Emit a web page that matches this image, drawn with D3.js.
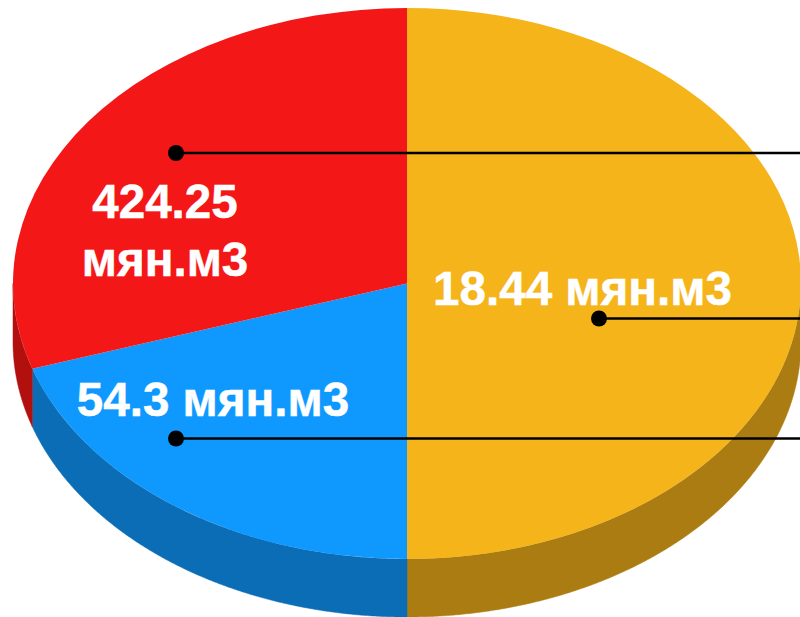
<!DOCTYPE html>
<html>
<head>
<meta charset="utf-8">
<script src="https://cdnjs.cloudflare.com/ajax/libs/d3/7.8.5/d3.min.js"></script>
<style>
  html, body { margin: 0; padding: 0; background: #fff; }
  svg { display: block; }
  text { font-family: "Liberation Sans", Arial, sans-serif; font-weight: bold; fill: #fff; stroke: #fff; stroke-width: 0.5px; }
</style>
</head>
<body>
<svg id="chart" width="800" height="617"></svg>
<script>
// slice shares as drawn (the picture does not follow the label values)
const categories = ["18.44 мян.м3", "54.3 мян.м3", "424.25 мян.м3"];
const shares = [50, 20, 30];
const topColors = ["#f4b41a", "#0f99ff", "#f41717"];
const sideColors = ["#ab7c11", "#0a6db6", "#b20f0f"];

const width = 800, height = 617;
const cx = 407, cy = 283.5, rx = 394, ry = 275.5, depth = 58;

const svg = d3.select("#chart");

const pie = d3.pie().sort(null).value(d => d)(shares);
const slices = pie.map((d, i) => ({ start: d.startAngle, end: d.endAngle, top: topColors[i], side: sideColors[i] }));

// the angle runs clockwise from the top of the pie
const px = a => cx + rx * Math.sin(a);
const py = a => cy - ry * Math.cos(a);

const wall = d3.area()
  .x(a => px(a))
  .y0(a => py(a))
  .y1(a => py(a) + depth);

// side wall, only the front half of the ellipse can be seen
slices.forEach(s => {
  const from = Math.max(s.start, Math.PI / 2);
  const to = Math.min(s.end, Math.PI * 1.5);
  if (to <= from) return;
  const angles = d3.range(from, to, 0.005).concat([to]);
  svg.append("path")
    .attr("d", wall(angles))
    .attr("fill", s.side)
    .attr("stroke", s.side)
    .attr("stroke-width", 0.5);
});

// top face
const arc = d3.arc().innerRadius(0).outerRadius(ry);
svg.append("g")
  .attr("transform", `translate(${cx},${cy}) scale(${rx / ry},1)`)
  .selectAll("path")
  .data(pie)
  .join("path")
  .attr("d", arc)
  .attr("fill", (d, i) => topColors[i]);

// leader lines run off the right edge
const leaders = [
  [176, 153],
  [599, 318.5],
  [176, 438.5]
];
leaders.forEach(([x, y]) => {
  svg.append("line")
    .attr("x1", x).attr("y1", y)
    .attr("x2", width).attr("y2", y)
    .attr("stroke", "#000")
    .attr("stroke-width", 2.5);
  svg.append("circle")
    .attr("cx", x).attr("cy", y)
    .attr("r", 8)
    .attr("fill", "#000");
});

const label = (str, x, y) => svg.append("text")
  .attr("x", x).attr("y", y)
  .attr("font-size", 47.6)
  .attr("text-anchor", "middle")
  .text(str);

label(categories[2].split(" ")[0], 165, 217.5);
label(categories[2].split(" ")[1], 165, 275.5);
label(categories[0], 582.5, 305);
label(categories[1], 213, 415.5);
</script>
</body>
</html>
